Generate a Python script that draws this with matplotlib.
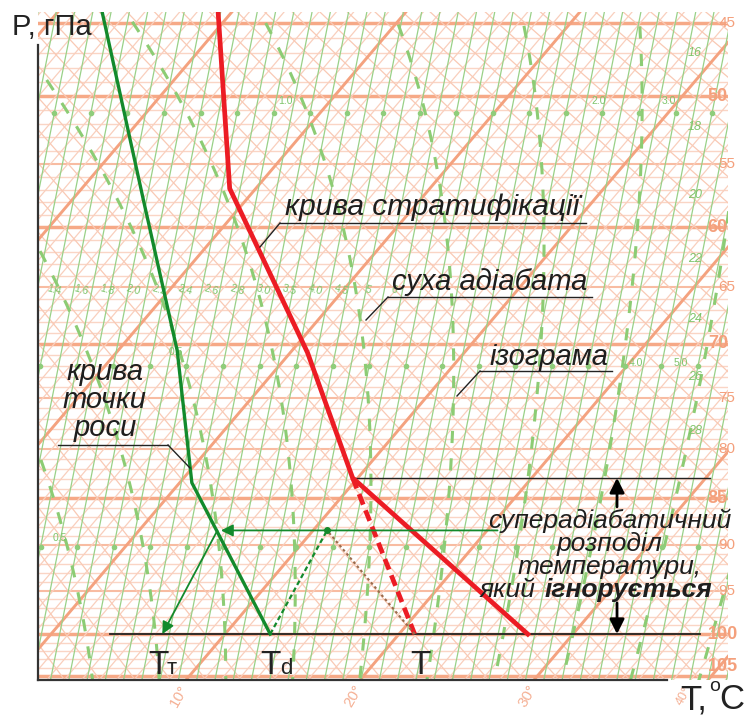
import numpy as np
import matplotlib
matplotlib.use("Agg")
import matplotlib.pyplot as plt
from matplotlib.lines import Line2D

plt.rcParams['font.family'] = ['Liberation Sans', 'DejaVu Sans']

# ---------------- data (T in degC, p in hPa) ----------------
strat_T = [-21.0, -11.5, 1.0, 9.7, 27.4]          # stratification curve
strat_p = [440, 569, 708, 829, 1000]
ignored_T = [9.7, 20.9]                            # curve used instead of superadiabatic layer
ignored_p = [829, 1000]
dew_T = [-27.7, -15.9, -6.6, 0.7, 12.6]            # dew point curve
dew_p = [440, 578, 706, 834, 1000]
T_surf, Td_surf, Tt_surf = 20.9, 12.6, 6.4
cond_T, cond_p = 10.8, 884                          # condensation level
arrow_from_T, arrow_to_T = 20.6, 4.7
tt_start_T = 4.5
layer_top_p = 829
surface_p = 1000

isobar_label_p = [450, 500, 550, 600, 650, 700, 750, 800, 850, 900, 950, 1000, 1038]
isobar_labels = ['45', '50', '55', '60', '65', '70', '75', '80', '85', '90', '95', '100', '105']
isotherm_label_T = [10, 20, 30, 40]
mix_label_vals = ['1.4', '1.6', '1.8', '2.0', '2.2', '2.4', '2.6', '2.8', '3.0', '3.5', '4.0', '4.5', '5', '6']
ma_label_vals = ['16', '18', '20', '22', '24', '26', '28']

# ---------------- diagram geometry ----------------
KAPPA = 0.286
SKEW = 20.27
Y1000 = 1000.0 ** KAPPA


def Yp(p):
    return np.power(np.asarray(p, float), KAPPA)


def SX(T, p):
    return np.asarray(T, float) + SKEW * (Y1000 - Yp(p))


W, H = 744, 716
fig = plt.figure(figsize=(W / 100, H / 100), dpi=100)
ax = fig.add_axes([38 / W, 1 - 680 / H, 690 / W, 668 / H])
ax.set_yscale('function', functions=(lambda p: np.power(np.clip(p, 1, None), KAPPA),
                                     lambda y: np.power(np.clip(y, 1e-6, None), 1 / KAPPA)))
ax.set_xlim(-0.747, 38.908)
ax.set_ylim(1054.7, 442.6)
ax.axis('off')

pg = np.linspace(430, 1070, 200)

# isobars
for p in range(440, 1061, 10):
    if p in (450, 500, 600, 700, 850, 1000, 1050):
        c, lw = '#f6a987', 2.5
    elif p % 50 == 0:
        c, lw = '#f8bca2', 1.5
    else:
        c, lw = '#fad5c5', 1.0
    ax.plot([-5, 45], [p, p], color=c, lw=lw, zorder=1, solid_capstyle='butt')

# isotherms
for T in range(-35, 45):
    if T % 10 == 0:
        ax.plot(SX(T, pg), pg, color='#f4a27f', lw=2.1, zorder=1.2)
    else:
        ax.plot(SX(T, pg), pg, color='#f9cfbd', lw=0.9, zorder=1.1)

# dry adiabats
for th in range(266, 362, 2):
    TK = th * Yp(pg) / Y1000
    ax.plot(SX(TK - 273.15, pg), pg, color='#f9c9b4', lw=0.9, zorder=1.1)

# isograms (thin green)
iso_X0 = np.arange(-10, 41, 1.05)
for i, x0 in enumerate(iso_X0):
    xs = x0 + 4.77 * (Y1000 - Yp(pg))
    ax.plot(xs, pg, color='#99d188', lw=0.9, zorder=1.3)
    if i % 2 == 0:
        for pd in (512, 720, 902):
            ax.plot(x0 + 4.77 * (Y1000 - Yp(pd)), pd, 'o', color='#8fcd7b', ms=3, zorder=1.4)


# pseudo-adiabats (green dashed)
def moist(T1000):
    Rd, cp, Lv, eps = 287.04, 1005.7, 2.501e6, 0.622
    res_p, res_T = [], []
    for direction in (-1, 1):
        p, T = 1000.0, T1000 + 273.15
        ps, Ts = [p], [T]
        while 430 < p < 1070:
            dp = 2.0 * direction

            def f(pp, TT):
                tc = TT - 273.15
                es = 6.112 * np.exp(17.67 * tc / (tc + 243.5))
                rs = eps * es / (pp - es)
                return (Rd * TT + Lv * rs) / (cp + Lv * Lv * rs * eps / (Rd * TT * TT)) / pp
            k1 = f(p, T)
            k2 = f(p + dp, T + dp * k1)
            T += dp * 0.5 * (k1 + k2)
            p += dp
            ps.append(p)
            Ts.append(T)
        if direction == -1:
            res_p = ps[::-1]
            res_T = Ts[::-1]
        else:
            res_p += ps[1:]
            res_T += Ts[1:]
    return np.array(res_p), np.array(res_T) - 273.15


for tw in range(-14, 44, 4):
    mp, mT = moist(tw)
    ax.plot(SX(mT, mp), mp, color='#8ccc74', lw=2.2, ls=(0, (4, 5)), zorder=1.35)

# small green labels (texture of the blank)
for i, lab in enumerate(mix_label_vals):
    ax.text(0.2 + i * 1.5, 652, lab, fontsize=7.5, color='#7fc46b', rotation=-15,
            ha='center', va='center', zorder=1.5)
for i, lab in enumerate(ma_label_vals):
    pp = 470 + i * 52
    ax.text(37.0, pp, lab, fontsize=9, color='#7fc46b', style='italic',
            ha='center', va='center', zorder=1.5)
for lab, xx, pp in (('0.5', 7.2, 712), ('0.5', 0.5, 897), ('1.0', 13.5, 507),
                    ('2.0', 31.5, 507), ('3.0', 35.5, 507), ('4.0', 33.6, 722), ('5.0', 36.2, 722)):
    ax.text(xx, pp, lab, fontsize=7.5, color='#7fc46b', ha='center', va='bottom', zorder=1.5)

# right isobar labels
for pp, lab in zip(isobar_label_p, isobar_labels):
    big = pp in (500, 600, 700, 850, 1000, 1038)
    ax.text(37.75 if big else 38.35, pp, lab, fontsize=13 if big else 11, color='#f4a07c',
            fontweight='bold' if big else 'normal', ha='left', va='center',
            clip_on=False, zorder=1.6)

# bottom isotherm labels
for T in isotherm_label_T:
    tt = T + 0.4 if T < 40 else T - 0.6
    ax.text(SX(tt, 1074), 1074, f'{T}°', fontsize=11 if T < 40 else 9, color='#f5b094',
            rotation=60, ha='center', va='center', clip_on=False)

# ---------------- curves ----------------
green = '#138a2c'
red = '#ec1c24'
ax.plot(SX(strat_T, strat_p), strat_p, color=red, lw=3.4, zorder=5, solid_joinstyle='miter')
ax.plot(SX(ignored_T, ignored_p), ignored_p, color=red, lw=3.4, ls=(0, (2.4, 1.3)), zorder=5)
ax.plot(SX(dew_T, dew_p), dew_p, color=green, lw=2.4, zorder=5)

ax.plot(SX([Td_surf, cond_T], [surface_p, cond_p]), [surface_p, cond_p],
        color=green, lw=1.6, ls=(0, (2.2, 1.4)), zorder=5)
ax.plot(SX([T_surf, cond_T], [surface_p, cond_p]), [surface_p, cond_p],
        color='#9b6b4c', lw=1.5, ls=(0, (1.3, 1.3)), zorder=5)
ax.plot(SX(cond_T, cond_p), cond_p, 'o', color=green, ms=4, zorder=6)

ax.annotate('', xy=(SX(arrow_to_T, cond_p), cond_p), xytext=(SX(arrow_from_T, cond_p), cond_p),
            arrowprops=dict(arrowstyle='-|>', color=green, lw=1.3, mutation_scale=18,
                            shrinkA=0, shrinkB=0), zorder=6)
ax.annotate('', xy=(SX(Tt_surf, surface_p), surface_p), xytext=(SX(tt_start_T, cond_p), cond_p),
            arrowprops=dict(arrowstyle='-|>', color=green, lw=1.3, mutation_scale=18,
                            shrinkA=0, shrinkB=0), zorder=6)

# black helper lines
ax.plot([3.4, 37.3], [surface_p, surface_p], color='#222222', lw=1.3, zorder=4)
ax.plot([SX(ignored_T[0], layer_top_p), 37.9], [layer_top_p, layer_top_p], color='#222222', lw=1.0, zorder=4)
xa = 32.53
ax.annotate('', xy=(xa, layer_top_p), xytext=(xa, 859),
            arrowprops=dict(arrowstyle='-|>', color='black', lw=2.0, mutation_scale=22,
                            shrinkA=0, shrinkB=0), zorder=6)
ax.annotate('', xy=(xa, surface_p), xytext=(xa, 964),
            arrowprops=dict(arrowstyle='-|>', color='black', lw=2.0, mutation_scale=22,
                            shrinkA=0, shrinkB=0), zorder=6)


# ---------------- frame & texts (pixel positions) ----------------
def F(px, py):
    return (px / W, 1 - py / H)


def fline(xs, ys, lw=1.0, color='#222222'):
    fig.add_artist(Line2D([x / W for x in xs], [1 - y / H for y in ys], lw=lw, color=color,
                          transform=fig.transFigure))


fline([38, 38], [45, 680], lw=1.6, color='#333333')
fline([38, 667], [680, 680], lw=1.6, color='#333333')

ital = dict(family=['Liberation Sans', 'DejaVu Sans'], style='italic', color='#1e1e1e', va='baseline')
fig.text(*F(285, 215), 'крива стратифікації', fontsize=21.5, ha='left', **ital)
fline([280, 586], [223, 223]); fline([280, 260], [223, 247])
fig.text(*F(392, 290), 'суха адіабата', fontsize=21, ha='left', **ital)
fline([388, 592], [297, 297]); fline([388, 366], [297, 320])
fig.text(*F(490, 365), 'ізограма', fontsize=21, ha='left', **ital)
fline([480, 612], [371, 371]); fline([480, 457], [371, 396])
for txt, yb in (('крива', 380), ('точки', 408), ('роси', 436)):
    fig.text(*F(105, yb), txt, fontsize=21, ha='center', **ital)
fline([58, 168], [445, 445]); fline([168, 190], [445, 468])

for txt, yb in (('суперадіабатичний', 528), ('розподіл', 551), ('температури,', 574)):
    fig.text(*F(610, yb), txt, fontsize=19, ha='center', **ital)
fig.text(*F(543, 597), 'який ', fontsize=19, ha='right', **ital)
fig.text(*F(545, 597), 'ігнорується', fontsize=19, ha='left', fontweight='bold', **ital)

up = dict(color='#222222', va='baseline')
fig.text(*F(12, 35), 'P, гПа', fontsize=21, ha='left', **up)
fig.text(*F(148, 674), 'T', fontsize=24, ha='left', **up)
fig.text(*F(167, 674), 'т', fontsize=16, ha='left', **up)
fig.text(*F(260, 674), 'T', fontsize=24, ha='left', **up)
fig.text(*F(280, 674), 'd', fontsize=16, ha='left', **up)
fig.text(*F(410, 674), 'T', fontsize=24, ha='left', **up)
fig.text(*F(680, 709), 'T,', fontsize=25, ha='left', **up)
fig.text(*F(709, 691), 'o', fontsize=14, ha='left', **up)
fig.text(*F(719, 709), 'C', fontsize=25, ha='left', **up)

fig.savefig('out.png', dpi=100, facecolor='white')
